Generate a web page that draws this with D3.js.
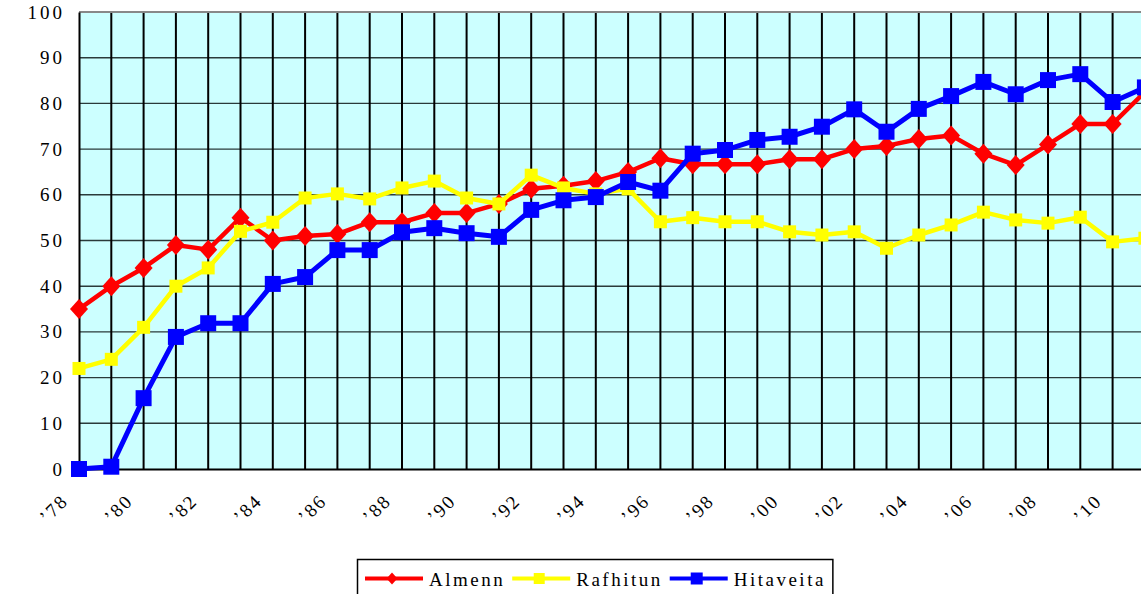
<!DOCTYPE html>
<html>
<head>
<meta charset="utf-8" />
<title>Almenn / Rafhitun / Hitaveita</title>
<style>
    body { margin: 0; background: #fff; }
</style>
</head>
<body>
<div id="container"></div>
<script src="https://cdn.jsdelivr.net/npm/d3@7"></script>
<script>
    // ár og gildi lesin af myndinni
    const years = d3.range(1978, 2012)
    const almenn = [35, 40, 44, 49, 48, 55, 50, 51, 51.4, 54, 54, 56, 56, 58, 61.3, 62, 63, 65, 68, 66.7,
        66.7, 66.7, 67.8, 67.8, 70, 70.7, 72.2, 73, 69, 66.5, 71, 75.5, 75.5, 82.5]
    const rafhitun = [22, 24, 31, 40, 44, 52, 54, 59.3, 60.2, 59.1, 61.5, 63, 59.3, 58, 64.3, 61.5, 60.2, 61.3, 54.1, 55,
        54.1, 54.1, 51.9, 51.2, 51.9, 48.3, 51.2, 53.4, 56.2, 54.5, 53.8, 55.1, 49.7, 50.5]
    const hitaveita = [0, 0.5, 15.5, 28.9, 31.9, 31.9, 40.5, 42, 47.9, 47.9, 51.8, 52.7, 51.6, 50.8, 56.7, 58.8, 59.5, 62.8, 60.9, 69,
        69.8, 72, 72.7, 74.9, 78.7, 73.8, 78.8, 81.6, 84.7, 82, 85.1, 86.4, 80.3, 83.5]
    const seriesNames = ['Almenn', 'Rafhitun', 'Hitaveita']
    const yTicks = [0, 10, 20, 30, 40, 50, 60, 70, 80, 90, 100]
    const xTicks = d3.range(1978, 2011, 2)

    const W = 1141, H = 594
    const plotLeft = 79, plotTop = 12, plotBottom = 469
    const step = 32.3
    const serif = '"Liberation Serif", "Times New Roman", serif'

    const svg = d3.select('#container').append('svg').attr('width', W).attr('height', H)
        .style('display', 'block')

    const x = d3.scaleLinear().domain([1978, 2012]).range([plotLeft, plotLeft + 34 * step])
    const y = d3.scaleLinear().domain([0, 100]).range([plotBottom, plotTop])

    // bakgrunnur
    svg.append('rect')
        .attr('x', x(1978)).attr('y', y(100))
        .attr('width', x(2012) - x(1978)).attr('height', y(0) - y(100))
        .attr('fill', '#ccffff')

    // lárétt net
    svg.append('g').selectAll('line').data(yTicks.slice(1, -1)).join('line')
        .attr('x1', x(1978)).attr('x2', x(2012))
        .attr('y1', d => y(d)).attr('y2', d => y(d))
        .attr('stroke', '#2a3a3a').attr('stroke-width', 1.4)

    // lóðrétt net, ein lína á ár
    svg.append('g').selectAll('line').data(d3.range(1979, 2013)).join('line')
        .attr('x1', d => x(d)).attr('x2', d => x(d))
        .attr('y1', y(100)).attr('y2', y(0))
        .attr('stroke', '#000').attr('stroke-width', 2)

    // efri rammi
    svg.append('line')
        .attr('x1', x(1978)).attr('x2', x(2012)).attr('y1', y(100)).attr('y2', y(100))
        .attr('stroke', '#888').attr('stroke-width', 2)

    // y-ás
    const yAxis = d3.axisLeft(y).tickValues(yTicks).tickSize(0).tickPadding(14)
    const gy = svg.append('g').attr('transform', `translate(${x(1978)},0)`).call(yAxis)
        .attr('font-family', serif).attr('font-size', 19)
    gy.select('.domain').attr('stroke', '#000').attr('stroke-width', 2)
    gy.selectAll('text').attr('fill', '#000').attr('letter-spacing', 3)

    // x-ás, merkimiðar snúnir um -45°
    const xAxis = d3.axisBottom(x).tickValues(xTicks).tickSize(0).tickFormat(d => '\u2019' + String(d).slice(2))
    const gx = svg.append('g').attr('transform', `translate(0,${y(0)})`).call(xAxis)
        .attr('font-family', serif).attr('font-size', 19)
    gx.select('.domain').attr('stroke', '#000').attr('stroke-width', 2)
    gx.selectAll('text')
        .attr('fill', '#000').attr('letter-spacing', 2)
        .attr('text-anchor', 'end').attr('y', 0).attr('dy', 0)
        .attr('transform', 'translate(-10,33) rotate(-45)')

    // raðir
    const diamond = s => `M0,${-s}L${s * 0.9},0L0,${s}L${-s * 0.9},0Z`
    const square = s => `M${-s / 2},${-s / 2}h${s}v${s}h${-s}Z`
    const series = [
        { name: seriesNames[0], values: almenn, color: '#ff0000', width: 4.5, marker: diamond(10), legendMarker: diamond(6) },
        { name: seriesNames[1], values: rafhitun, color: '#ffff00', width: 4.5, marker: square(13), legendMarker: square(11) },
        { name: seriesNames[2], values: hitaveita, color: '#0000ff', width: 5, marker: square(16), legendMarker: square(12) }
    ]

    const line = d3.line().x((d, i) => x(years[i])).y(d => y(d))

    series.forEach(s => {
        const g = svg.append('g')
        g.append('path').datum(s.values)
            .attr('d', line).attr('fill', 'none')
            .attr('stroke', s.color).attr('stroke-width', s.width).attr('stroke-linejoin', 'round')
        g.selectAll('path.m').data(s.values).join('path').attr('class', 'm')
            .attr('d', s.marker)
            .attr('transform', (d, i) => `translate(${x(years[i])},${y(d)})`)
            .attr('fill', s.color)
    })

    // skýringar
    const legend = svg.append('g')
    const box = legend.append('rect')
        .attr('x', 357.5).attr('y', 559.5).attr('height', 60)
        .attr('fill', '#fff').attr('stroke', '#000').attr('stroke-width', 1.5)

    let lx = 365
    series.forEach(s => {
        legend.append('line')
            .attr('x1', lx).attr('x2', lx + 58).attr('y1', 578.5).attr('y2', 578.5)
            .attr('stroke', s.color).attr('stroke-width', 4)
        legend.append('path').attr('d', s.legendMarker)
            .attr('transform', `translate(${lx + 27},578.5)`).attr('fill', s.color)
        const t = legend.append('text')
            .attr('x', lx + 64).attr('y', 585.5)
            .attr('font-family', serif).attr('font-size', 19).attr('letter-spacing', 2.5)
            .text(s.name)
        lx += 64 + t.node().getComputedTextLength() + 7
    })
    box.attr('width', lx - 357.5)
</script>
</body>
</html>
